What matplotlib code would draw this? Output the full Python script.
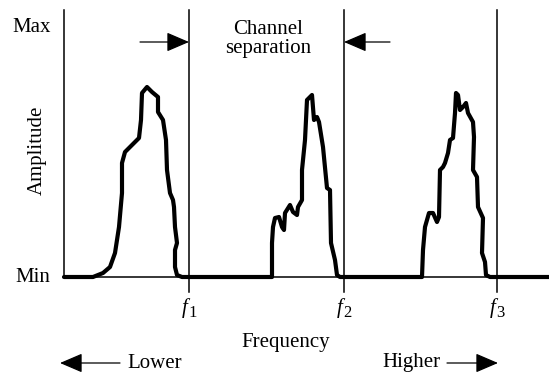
import matplotlib
matplotlib.use('Agg')

import matplotlib.pyplot as plt

plt.rcParams['font.family'] = 'Liberation Serif'

# traced spectrum (arbitrary frequency units, amplitude 0 = Min, 250 = Max)
freq = [0, 29, 39, 46, 51, 55, 58, 58, 61, 68, 75, 77, 78, 83, 88, 94, 94, 99,
        102, 103, 106, 109, 110, 111, 113, 111, 111, 113, 118,
        208, 208, 209, 211, 215, 218, 220, 221, 226, 229, 233, 234, 238, 238,
        241, 243, 248, 250, 253, 255, 259, 263, 266, 267, 271, 273, 276,
        358, 359, 361, 365, 369, 373, 375, 376, 379, 381, 384, 386, 389, 391,
        392, 394, 396, 399, 402, 404, 409, 410, 409, 413, 414, 419, 418, 421,
        422, 426, 485]
amp = [0, 0, 4, 10, 24, 50, 84, 114, 125, 132, 139, 157, 184, 190, 185, 180, 165, 157,
       137, 107, 84, 77, 70, 50, 34, 27, 10, 2, 0,
       0, 34, 50, 59, 60, 50, 47, 64, 72, 65, 62, 70, 77, 107,
       137, 177, 182, 157, 160, 155, 130, 89, 87, 34, 17, 2, 0,
       0, 27, 50, 64, 64, 55, 60, 107, 110, 114, 124, 137, 139, 164,
       184, 182, 167, 170, 174, 164, 155, 140, 107, 100, 70, 59, 24, 15,
       2, 0, 0]

channels = [125, 280, 433]
channel_nums = ['1', '2', '3']
amp_max = 250

fig = plt.figure(figsize=(5.49, 3.75), dpi=100)
ax = fig.add_axes([64/549, 83/375, 485/549, 282/375])
ax.set_xlim(0, 485)
ax.set_ylim(-15, 267)
ax.axis('off')

# frame lines
ax.plot([0, 0], [0, 267], color='black', lw=1.1, clip_on=False)
ax.plot([0, 485], [0, 0], color='black', lw=1.1, clip_on=False)
for f, n in zip(channels, channel_nums):
    ax.plot([f, f], [-15, 267], color='black', lw=1.1, clip_on=False)
    ax.text(f - 1, -31, 'f', ha='right', va='center', fontsize=15, style='italic')
    ax.text(f - 1, -36, n, ha='left', va='center', fontsize=12)

# signal
ax.plot(freq, amp, color='black', lw=3.0, solid_joinstyle='round',
        solid_capstyle='round', clip_on=False)

arrow = dict(arrowstyle='-|>,head_length=1.4,head_width=0.6', color='black',
             lw=0.9, shrinkA=0, shrinkB=0)
ax.annotate('', xy=(channels[0], 235), xytext=(76, 235), arrowprops=arrow)
ax.annotate('', xy=(channels[1], 235), xytext=(326, 235), arrowprops=arrow)
ax.text(204, 238, 'Channel\nseparation', ha='center', va='center', fontsize=15,
        linespacing=1.05)

ax.text(-32, amp_max, 'Max', ha='center', va='center', fontsize=15)
ax.text(-31, -1, 'Min', ha='center', va='center', fontsize=15)
ax.text(-27, 127, 'Amplitude', ha='center', va='center', fontsize=15, rotation=90)
ax.text(222, -66, 'Frequency', ha='center', va='center', fontsize=15)

ax.annotate('', xy=(-4, -86), xytext=(56, -86), arrowprops=arrow, annotation_clip=False)
ax.annotate('', xy=(434, -86), xytext=(383, -86), arrowprops=arrow, annotation_clip=False)
ax.text(91, -86, 'Lower', ha='center', va='center', fontsize=15)
ax.text(347, -86, 'Higher', ha='center', va='center', fontsize=15)

plt.savefig('out.png', dpi=100)
